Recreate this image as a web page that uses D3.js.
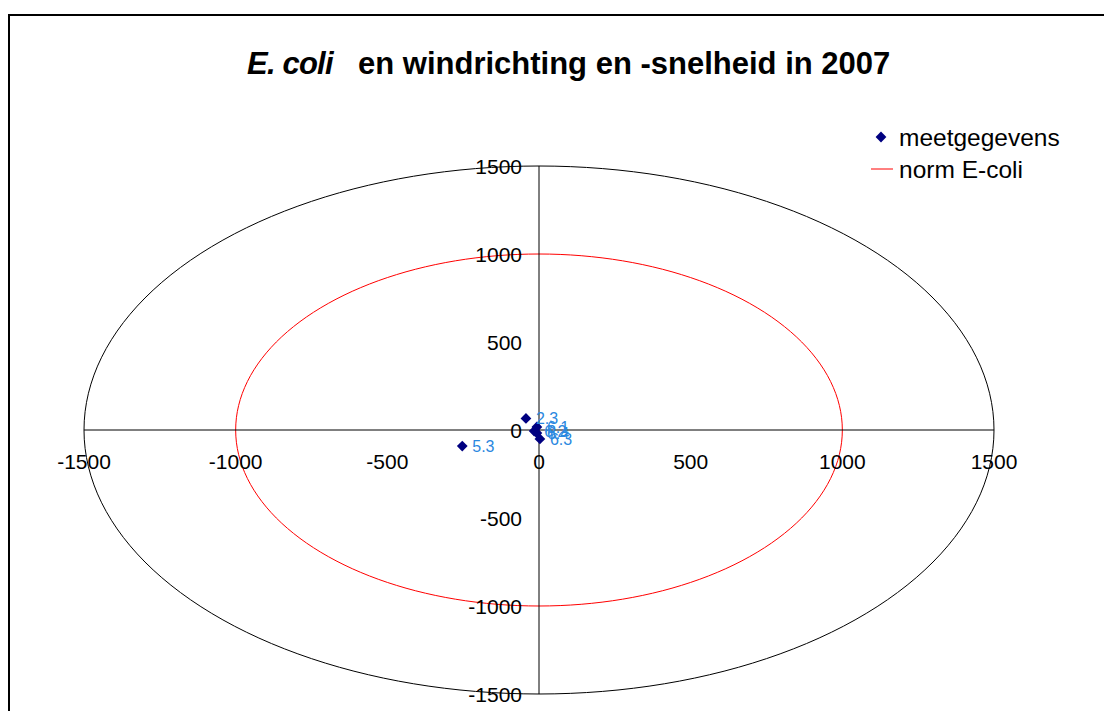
<!DOCTYPE html>
<html>
<head>
<meta charset="utf-8">
<script src="https://cdn.jsdelivr.net/npm/d3@7"></script>
<style>
  body { margin: 0; background: #fff; }
  text { font-family: "Liberation Sans", Arial, sans-serif; }
</style>
</head>
<body>
<script>
// Chart data
const pointLabels = ["2.3", "5.3", "6.1", "6.2", "6.4", "6.3"];
const pointX = [-43, -253, -7, -16, -7, 3];
const pointY = [66, -91, 17, -6, -17, -51];

const normRadius = 1000;     // norm E-coli
const outerRadius = 1500;    // outer boundary
const tickValues = [-1500, -1000, -500, 0, 500, 1000, 1500];

const legendItems = ["meetgegevens", "norm E-coli"];

const W = 1104, H = 711;

const svg = d3.select("body").append("svg")
  .attr("width", W)
  .attr("height", H);

// chart border
svg.append("rect")
  .attr("x", 9).attr("y", 15)
  .attr("width", 1200).attr("height", 800)
  .attr("fill", "#fff")
  .attr("stroke", "#000")
  .attr("stroke-width", 2);

const x = d3.scaleLinear().domain([-1500, 1500]).range([84, 994]);
const y = d3.scaleLinear().domain([-1500, 1500]).range([694, 166]);

// title
const title = svg.append("text")
  .attr("x", 247).attr("y", 74)
  .attr("font-size", 31)
  .attr("font-weight", "bold");
title.append("tspan")
  .attr("font-style", "italic")
  .attr("letter-spacing", -0.8)
  .text("E. coli");
title.append("tspan")
  .attr("x", 358)
  .text("en windrichting en -snelheid in 2007");

// circles in data space
const angles = d3.range(0, 361, 2).map(a => a * Math.PI / 180);
const ring = r => d3.line()
  .x(a => x(r * Math.cos(a)))
  .y(a => y(r * Math.sin(a)))(angles);

svg.append("path")
  .attr("d", ring(outerRadius))
  .attr("fill", "none")
  .attr("stroke", "#000")
  .attr("stroke-width", 1);

svg.append("path")
  .attr("d", ring(normRadius))
  .attr("fill", "none")
  .attr("stroke", "#ff0000")
  .attr("stroke-width", 1);

// axes through origin
svg.append("line")
  .attr("x1", x(-1500)).attr("x2", x(1500))
  .attr("y1", y(0)).attr("y2", y(0))
  .attr("stroke", "#000");
svg.append("line")
  .attr("x1", x(0)).attr("x2", x(0))
  .attr("y1", y(-1500)).attr("y2", y(1500))
  .attr("stroke", "#000");

// tick labels
svg.append("g").selectAll("text")
  .data(tickValues)
  .join("text")
  .attr("x", d => x(d))
  .attr("y", y(0) + 39)
  .attr("text-anchor", "middle")
  .attr("font-size", 21)
  .text(d => d);

svg.append("g").selectAll("text")
  .data(tickValues)
  .join("text")
  .attr("x", x(0) - 17)
  .attr("y", d => y(d))
  .attr("dy", "0.36em")
  .attr("text-anchor", "end")
  .attr("font-size", 21)
  .text(d => d);

// points
const points = pointLabels.map((l, i) => ({ label: l, x: pointX[i], y: pointY[i] }));
const diamond = d3.symbol().type(d3.symbolSquare).size(58);

svg.append("g").selectAll("path")
  .data(points)
  .join("path")
  .attr("d", diamond)
  .attr("transform", d => `translate(${x(d.x)},${y(d.y)}) rotate(45)`)
  .attr("fill", "#000080");

svg.append("g").selectAll("text")
  .data(points)
  .join("text")
  .attr("x", d => x(d.x) + 10)
  .attr("y", d => y(d.y))
  .attr("dy", "0.36em")
  .attr("font-size", 16)
  .attr("fill", "#2b88e0")
  .text(d => d.label);

// legend
const legend = svg.append("g");
legend.append("path")
  .attr("d", diamond)
  .attr("transform", "translate(881,137) rotate(45)")
  .attr("fill", "#000080");
legend.append("line")
  .attr("x1", 871).attr("x2", 893)
  .attr("y1", 169).attr("y2", 169)
  .attr("stroke", "#ff0000");
legend.selectAll("text")
  .data(legendItems)
  .join("text")
  .attr("x", 899)
  .attr("y", (d, i) => 137 + i * 32)
  .attr("dy", "0.36em")
  .attr("font-size", 24.5)
  .text(d => d);
</script>
</body>
</html>
